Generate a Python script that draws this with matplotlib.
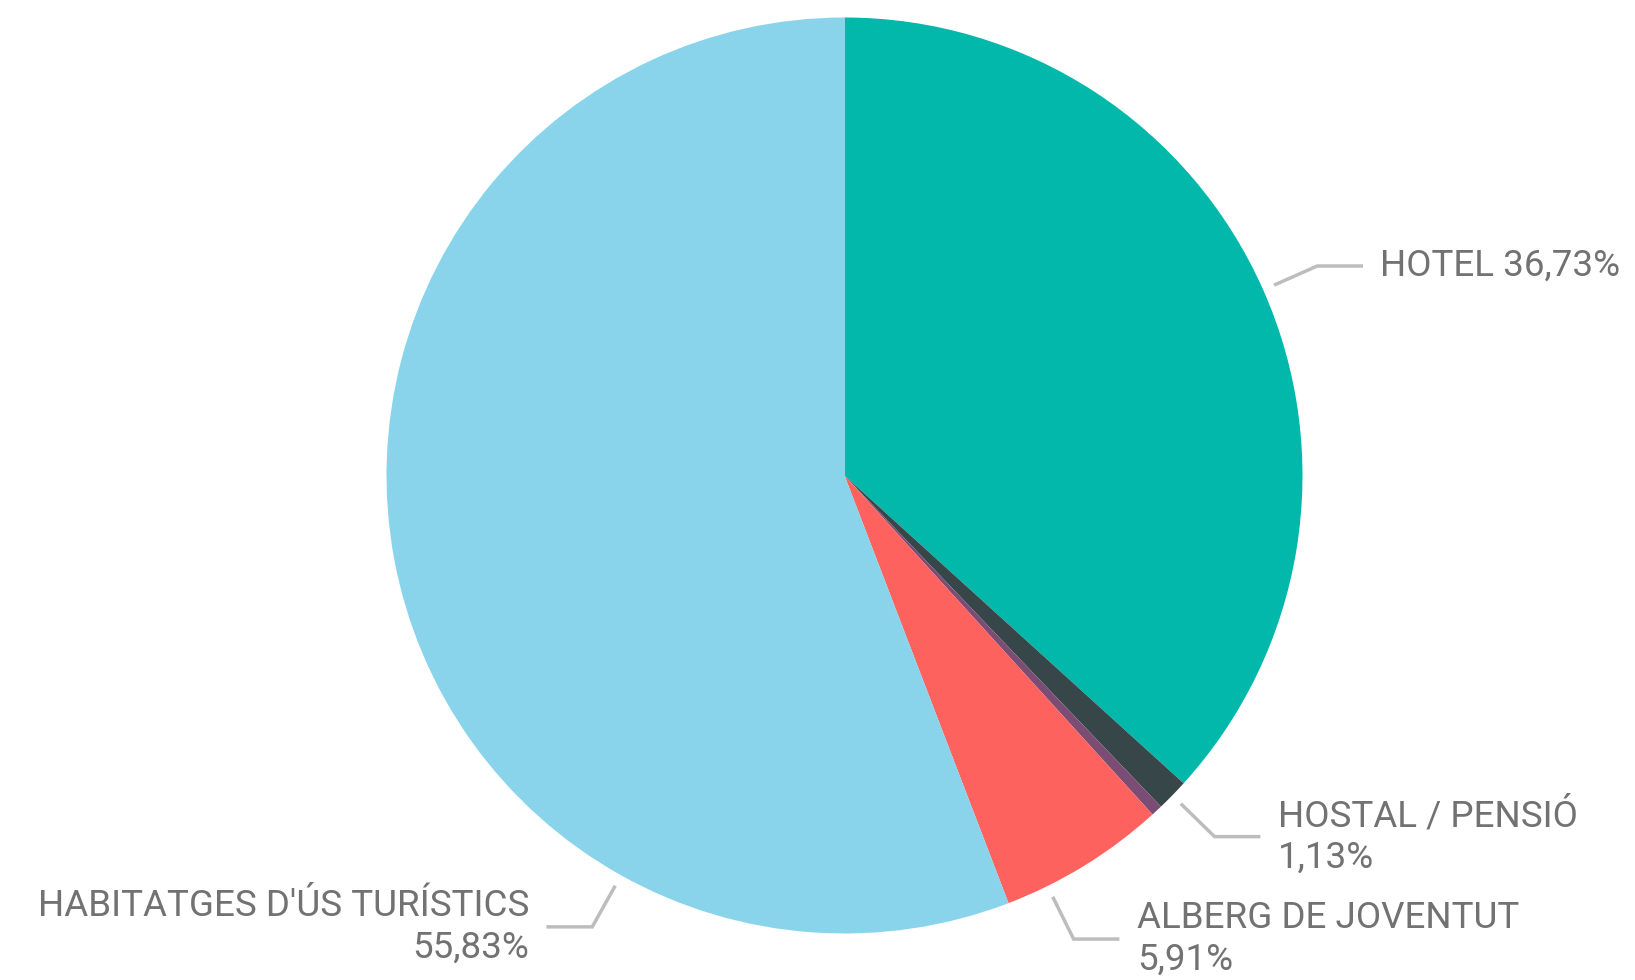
import numpy as np
import matplotlib
matplotlib.use("Agg")
import matplotlib.pyplot as plt

# Data
categories = ["HOTEL", "HOSTAL / PENSIÓ", "ALTRES", "ALBERG DE JOVENTUT", "HABITATGES D'ÚS TURÍSTICS"]
shares = [36.73, 1.13, 0.40, 5.91, 55.83]
labels = ["HOTEL 36,73%", "HOSTAL / PENSIÓ\n1,13%", None, "ALBERG DE JOVENTUT\n5,91%",
          "HABITATGES D'ÚS TURÍSTICS\n55,83%"]
colors = ["#01B8AA", "#374649", "#7B4D74", "#FD625E", "#8AD4EB"]

# leader layout (angle in degrees where each leader leaves the pie)
leader_angles = [23.9, -44.3, None, -63.7, -119.2]

W, H = 1635, 980
cx, cy, R = 844.5, 475.5, 458.0

fig = plt.figure(figsize=(W / 100, H / 100), dpi=100)
ax = fig.add_axes([0, 0, 1, 1])

ax.pie(shares, colors=colors, startangle=90, counterclock=False, radius=1,
       center=(0, 0), wedgeprops=dict(linewidth=0), frame=True)
ax.set_xlim(-cx / R, (W - cx) / R)
ax.set_ylim(-(H - cy) / R, cy / R)
ax.set_aspect("auto")
ax.axis("off")

r0, r1, seg, gap = 1.026, 1.129, 0.10, 0.038
for lab, ang in zip(labels, leader_angles):
    if lab is None:
        continue
    a = np.deg2rad(ang)
    x0, y0 = r0 * np.cos(a), r0 * np.sin(a)
    x1, y1 = r1 * np.cos(a), r1 * np.sin(a)
    side = 1 if np.cos(a) > 0 else -1
    x2 = x1 + side * seg
    ax.plot([x0, x1, x2], [y0, y1, y1], color="#BDBDBD", lw=2.5,
            solid_capstyle="butt", solid_joinstyle="miter")
    ax.text(x2 + side * gap, y1, lab, ha="left" if side > 0 else "right",
            va="center", multialignment="left" if side > 0 else "right",
            fontsize=26.5, color="#727272", family=["Roboto", "DejaVu Sans"],
            linespacing=1.2)

fig.savefig("out.png", dpi=100, facecolor="white")
